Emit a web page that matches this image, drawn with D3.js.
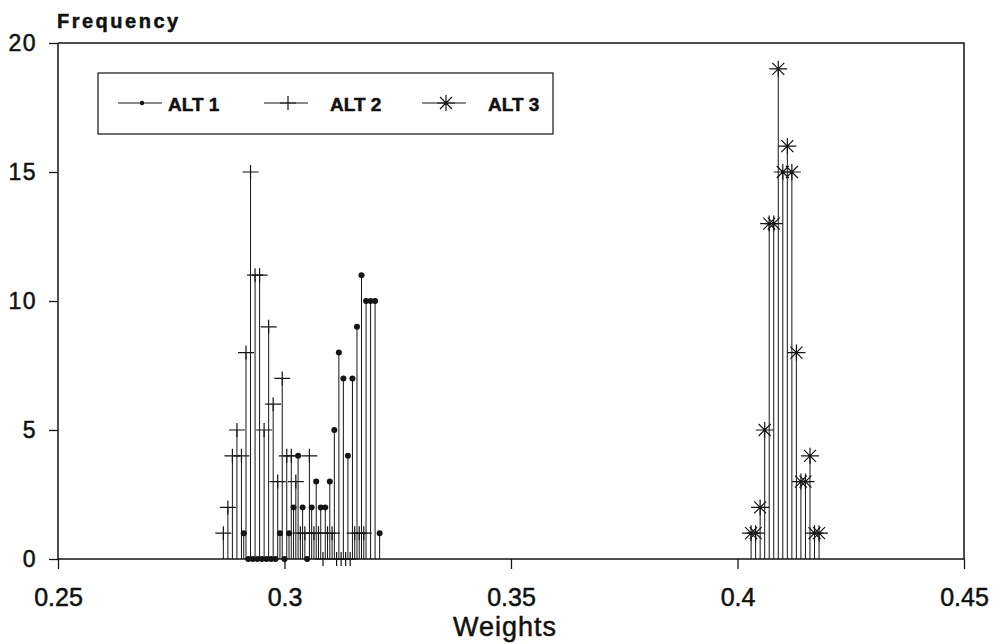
<!DOCTYPE html>
<meta charset="utf-8">
<style>
    body {
        margin: 0;
        background: #fff;
    }

    svg text {
        font-family: "Liberation Sans", Arial, sans-serif;
        fill: #111;
        stroke: #111;
        stroke-width: 0.5px;
    }
</style>
<svg width="998" height="644"></svg>
<script src="https://d3js.org/d3.v7.min.js"></script>
<script>
    // ALT 1 (dots)
    var alt1Weights = [0.291, 0.292, 0.293, 0.294, 0.295, 0.296, 0.297, 0.298, 0.299, 0.300,
        0.301, 0.302, 0.303, 0.304, 0.305, 0.306, 0.307, 0.308, 0.309, 0.310,
        0.311, 0.312, 0.313, 0.314, 0.315, 0.316, 0.317, 0.318, 0.319, 0.320, 0.321];
    var alt1Freq = [1, 0, 0, 0, 0, 0, 0, 0, 1, 0,
        1, 2, 4, 2, 0, 2, 3, 2, 2, 3,
        5, 8, 7, 4, 7, 9, 11, 10, 10, 10, 1];

    // ALT 2 (plus)
    var alt2Weights = [0.2865, 0.2875, 0.2885, 0.2895, 0.2905, 0.2915, 0.2925, 0.2935, 0.2945, 0.2955,
        0.2965, 0.2975, 0.2985, 0.2995, 0.3005, 0.3015, 0.3025, 0.3035, 0.3045, 0.3055,
        0.3065, 0.3075, 0.3085, 0.3095, 0.3105, 0.3115, 0.3125, 0.3135, 0.3145, 0.3155,
        0.3165, 0.3175];
    var alt2Freq = [1, 2, 4, 5, 4, 8, 15, 11, 11, 5,
        9, 6, 3, 7, 4, 4, 3, 1, 1, 4,
        1, 1, 0, 1, 1, 0, 0, 0, 0, 1,
        1, 1];

    // ALT 3 (asterisk)
    var alt3Weights = [0.403, 0.404, 0.405, 0.406, 0.407, 0.408, 0.409, 0.410,
        0.411, 0.412, 0.413, 0.414, 0.415, 0.416, 0.417, 0.418];
    var alt3Freq = [1, 1, 2, 5, 13, 13, 19, 15, 16, 15, 8, 3, 3, 4, 1, 1];

    var seriesNames = ["ALT 1", "ALT 2", "ALT 3"];
    var xTicks = [0.25, 0.3, 0.35, 0.4, 0.45];
    var xTickLabels = ["0.25", "0.3", "0.35", "0.4", "0.45"];
    var yTicks = [0, 5, 10, 15, 20];

    var svg = d3.select("svg");
    var ink = "#151515";

    var x = d3.scaleLinear().domain([0.25, 0.45]).range([58, 964]);
    var y = d3.scaleLinear().domain([0, 20]).range([559, 43]);

    var markerPath = {
        "ALT 2": "M-8,0H8M0,-7V7",
        "ALT 3": "M-9,0H9M0,-8V8M-6,-6L6,6M-6,6L6,-6"
    };

    function drawMarker(g, name, cx, cy, small) {
        if (name === "ALT 1") {
            g.append("circle").attr("cx", cx).attr("cy", cy)
                .attr("r", small ? 2.2 : 3).attr("fill", ink);
        } else {
            g.append("path").attr("d", markerPath[name])
                .attr("transform", "translate(" + cx + "," + cy + ")")
                .attr("fill", "none").attr("stroke", ink).attr("stroke-width", 1.2);
        }
    }

    var series = [
        { name: "ALT 1", w: alt1Weights, f: alt1Freq },
        { name: "ALT 2", w: alt2Weights, f: alt2Freq },
        { name: "ALT 3", w: alt3Weights, f: alt3Freq }
    ];

    // axes
    var xAxis = d3.axisBottom(x).tickValues(xTicks).tickSize(10).tickPadding(19)
        .tickFormat(function (d, i) { return xTickLabels[i]; });
    var gx = svg.append("g").attr("transform", "translate(0,559)").call(xAxis);
    gx.select(".domain").remove();
    gx.selectAll("line").attr("stroke", ink).attr("stroke-width", 1.3);
    gx.selectAll("text").attr("font-size", 25).attr("fill", ink);

    var yAxis = d3.axisLeft(y).tickValues(yTicks).tickSize(9).tickPadding(12);
    var gy = svg.append("g").attr("transform", "translate(58,0)").call(yAxis);
    gy.select(".domain").remove();
    gy.selectAll("line").attr("stroke", ink).attr("stroke-width", 1.3);
    gy.selectAll("text").attr("font-size", 23).attr("letter-spacing", 1.5).attr("fill", ink);

    // frame
    svg.append("path")
        .attr("d", "M58,43V559H964V43H58")
        .attr("fill", "none").attr("stroke", ink).attr("stroke-width", 1.5);

    // stems and markers
    var plot = svg.append("g");
    series.forEach(function (s) {
        s.w.forEach(function (wv, i) {
            var v = s.f[i];
            if (v > 0) {
                plot.append("line")
                    .attr("x1", x(wv)).attr("x2", x(wv))
                    .attr("y1", y(0)).attr("y2", y(v))
                    .attr("stroke", ink).attr("stroke-width", 1);
            }
        });
    });
    series.forEach(function (s) {
        s.w.forEach(function (wv, i) {
            drawMarker(plot, s.name, x(wv), y(s.f[i]), false);
        });
    });

    // legend
    var legend = svg.append("g");
    legend.append("rect")
        .attr("x", 98).attr("y", 73).attr("width", 455).attr("height", 61)
        .attr("fill", "#fff").attr("stroke", ink).attr("stroke-width", 1.2);
    var legendLineX = [118, 264, 422];
    var legendTextX = [168, 330, 488];
    seriesNames.forEach(function (name, i) {
        var lx = legendLineX[i];
        legend.append("line")
            .attr("x1", lx).attr("x2", lx + 44)
            .attr("y1", 103).attr("y2", 103)
            .attr("stroke", ink).attr("stroke-width", 1.2);
        drawMarker(legend, name, lx + 24, 103, true);
        legend.append("text")
            .attr("x", legendTextX[i]).attr("y", 111)
            .attr("font-size", 19).attr("font-weight", "bold")
            .attr("stroke-width", 0.2)
            .text(name);
    });

    // axis titles
    svg.append("text")
        .attr("x", 57).attr("y", 28)
        .attr("font-size", 20).attr("font-weight", "bold").attr("letter-spacing", 2.5)
        .attr("stroke-width", 0.1)
        .text("Frequency");

    svg.append("text")
        .attr("x", 505).attr("y", 636)
        .attr("text-anchor", "middle")
        .attr("font-size", 27).attr("letter-spacing", 1)
        .text("Weights");
</script>
